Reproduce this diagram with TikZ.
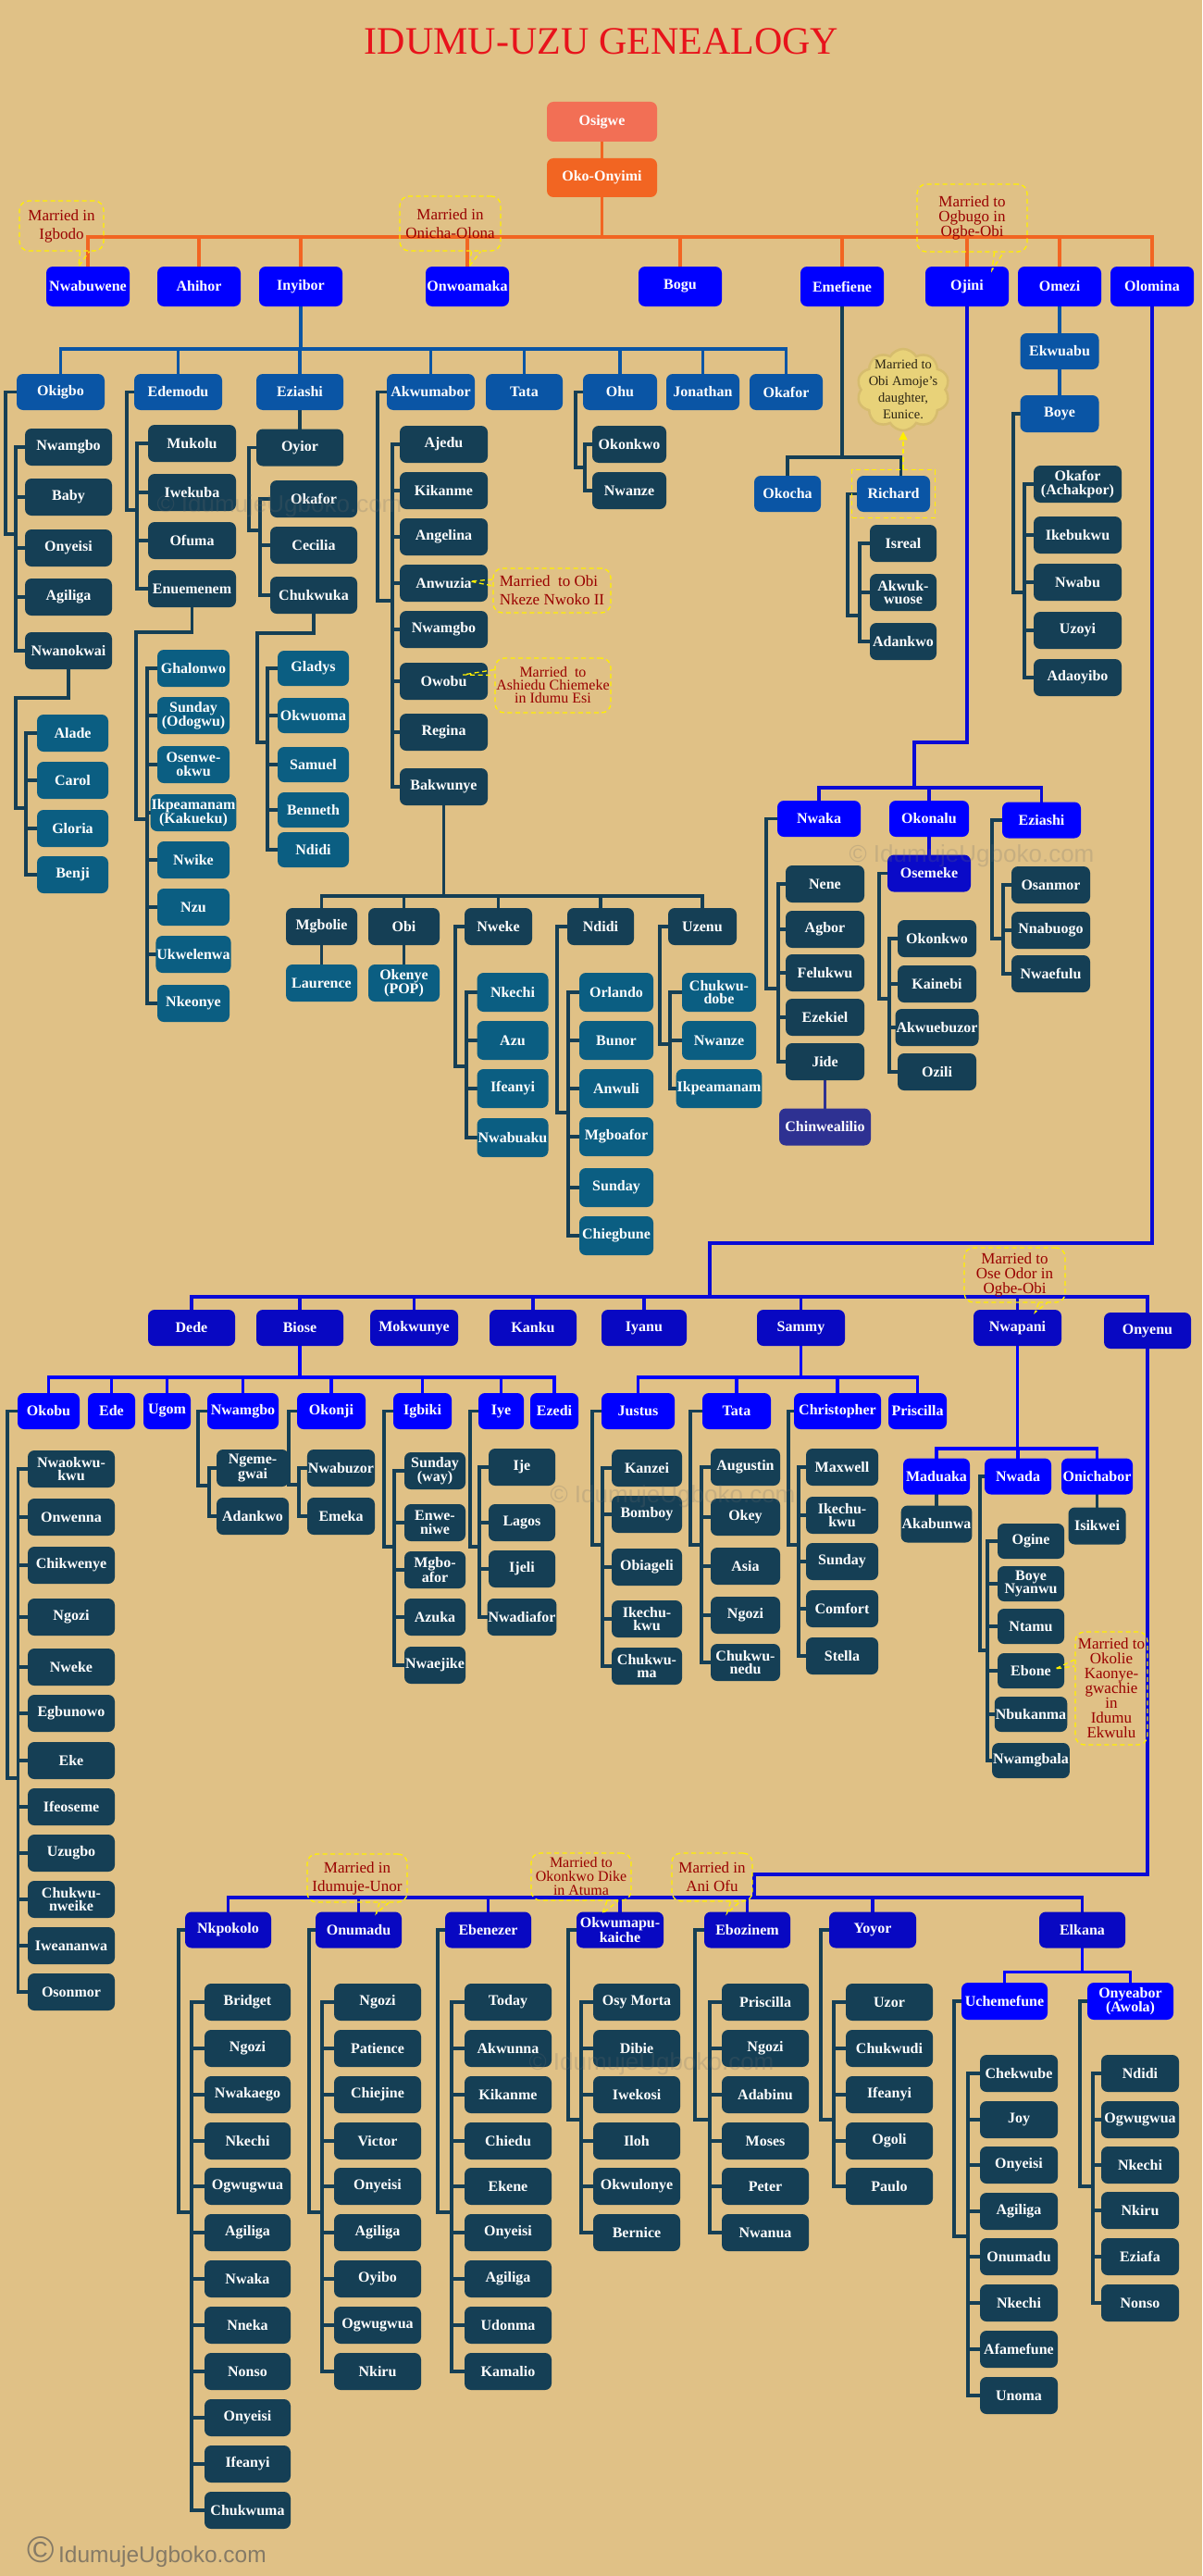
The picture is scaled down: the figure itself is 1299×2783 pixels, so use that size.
\documentclass[tikz,border=0pt]{standalone}
\usepackage{fontspec}
\setmainfont{Liberation Serif}
\newfontfamily\wmfont{Liberation Sans}
\usetikzlibrary{shapes.symbols,fit,arrows.meta}
\pgfdeclarelayer{back}
\pgfdeclarelayer{lines}
\pgfsetlayers{back,lines,main}
\definecolor{bgc}{HTML}{E0C186}
\definecolor{cTitle}{HTML}{E8131B}
\definecolor{cOsi}{HTML}{F26F55}
\definecolor{cOko}{HTML}{F26522}
\definecolor{cT}{HTML}{0000FF}
\definecolor{cM}{HTML}{0A55A5}
\definecolor{cD}{HTML}{153F55}
\definecolor{cL}{HTML}{0B5E82}
\definecolor{cN}{HTML}{0808C2}
\definecolor{cOse}{HTML}{0A0AC8}
\definecolor{cChi}{HTML}{2E3192}
\definecolor{cLine}{HTML}{0A0AD6}
\definecolor{cRed}{HTML}{990000}
\definecolor{cYel}{HTML}{FFF000}
\definecolor{cCloud}{HTML}{E8D279}
\definecolor{cCloudD}{HTML}{D6BC6E}
\definecolor{cCloudT}{HTML}{2B2414}
\definecolor{cWm}{HTML}{6E6E6E}
\definecolor{cFoot}{HTML}{857A66}
\tikzset{
  bx/.style={rounded corners=7pt, text=white, align=center, inner sep=1pt, minimum height=40, font=\bfseries\fontsize{16}{14.5}\selectfont},
  bT/.style={bx, fill=cT, minimum height=43, minimum width=90},
  bM/.style={bx, fill=cM, minimum height=39},
  bD/.style={bx, fill=cD},
  bL/.style={bx, fill=cL},
  bN/.style={bx, fill=cN, minimum height=39},
  bB/.style={bx, fill=cT, minimum height=39},
  conn/.style={line width=3.5pt, line cap=rect, line join=miter},
  callout/.style={draw=cYel, line width=1.3pt, dash pattern=on 5pt off 3.5pt, rounded corners=10pt, text=cRed, align=center, inner sep=1pt, font=\fontsize{17}{20}\selectfont},
  ptr/.style={draw=cYel, line width=1.3pt, dash pattern=on 5pt off 3.5pt},
  wm/.style={font=\wmfont\fontsize{26}{26}\selectfont, text=cWm, opacity=0.22},
}
% column of children: prefix, center x, width, style, list y/label
\newcommand\kcol[5]{\foreach \yy/\lab [count=\i] in {#5}{\node[#4, minimum width=#3] (#1\i) at (#2,\yy) {\lab};}}
% bus: prefix, n, inner x, colour
\newcommand\kbus[4]{%
  \coordinate (#1bx) at (#3,0);
  \draw[conn,#4] (#11.west -| #1bx) -- (#1#2.west -| #1bx);
  \foreach \i in {1,...,#2}{\draw[conn,#4] (#1\i.west) -- (#1\i.west -| #1bx);}}
% parent west elbow: parent, prefix, n, xo, ymid, xi, colour
\newcommand\kconn[7]{%
  \draw[conn,#7] (#1.west) -| (#4,#5) -- (#6,#5);
  \kbus{#2}{#3}{#6}{#7}}
% parent south elbow: parent, prefix, n, y1, xo, ymid, xi, colour
\newcommand\kconnb[8]{%
  \draw[conn,#8] (#1.south) |- (#5,#4) -- (#5,#6) -- (#7,#6);
  \kbus{#2}{#3}{#7}{#8}}

\begin{document}
\begin{tikzpicture}[x=1pt,y=-1pt]
\begin{pgfonlayer}{back}
\fill[bgc] (0,0) rectangle (1299,2783);
\end{pgfonlayer}
\useasboundingbox (0,0) rectangle (1299,2783);

\node[font=\fontsize{42}{42}\selectfont, text=cTitle] (title) at (650,45) {IDUMU-UZU GENEALOGY};

\node[bx,fill=cOsi,minimum width=119,minimum height=43] (osigwe) at (650.5,131.5) {Osigwe};
\node[bx,fill=cOko,minimum width=119,minimum height=42] (oko) at (650.5,192) {Oko-Onyimi};

\foreach \n/\x/\lab in {nwabuwene/95/Nwabuwene, ahihor/215/Ahihor, inyibor/325/Inyibor, onwoamaka/505/Onwoamaka, bogu/735/Bogu, emefiene/910/Emefiene, ojini/1045/Ojini, omezi/1145/Omezi, olomina/1245/Olomina}
  \node[bT] (\n) at (\x,309.5) {\lab};

% Inyibor's children
\foreach \n/\x/\w/\lab in {okigbo/65.5/95/Okigbo, edemodu/192.5/95/Edemodu, eziashiA/324/94/Eziashi, akwumabor/465.5/95/Akwumabor, tataA/566.5/83/Tata, ohu/670/80/Ohu, jonathan/759.5/79/Jonathan, okaforA/849.5/79/Okafor}
  \node[bM,minimum width=\w] (\n) at (\x,423.5) {\lab};

\kcol{oki}{74}{94}{bD}{483/Nwamgbo,537/Baby,592/Onyeisi,645/Agiliga,703/Nwanokwai}
\kcol{nwo}{78.5}{77}{bL}{792/Alade,843/Carol,895/Gloria,945/Benji}
\kcol{edm}{207.5}{95}{bD}{479/Mukolu,532/Iwekuba,584/Ofuma,636/Enuemenem}
\kcol{enu}{209}{78}{bL}{722/Ghalonwo,773/{Sunday\\(Odogwu)},826/{Osenwe-\\okwu},878/{Ikpeamanam\\(Kakueku)},929/Nwike,980/Nzu,1031/Ukwelenwa,1084/Nkeonye}
\node[bD,minimum width=94] (oyior) at (324,483.5) {Oyior};
\kcol{oyi}{339}{94}{bD}{539/Okafor,589/Cecilia,643/Chukwuka}
\kcol{chu}{338.5}{77}{bL,minimum height=38}{722/Gladys,773/Okwuoma,826/Samuel,875/Benneth,918/Ndidi}
\kcol{akw}{479.5}{95}{bD}{480/Ajedu,530/Kikanme,580/Angelina,630/Anwuzia,680/Nwamgbo,736/Owobu,791/Regina,850/Bakwunye}

\foreach \n/\x/\w/\lab in {mgbolie/347.5/77/Mgbolie, obi/436.5/77/Obi, nweke/538.5/73/Nweke, ndidiA/649/72/Ndidi, uzenu/759/74/Uzenu}
  \node[bD,minimum width=\w] (\n) at (\x,1001) {\lab};
\node[bL,minimum width=77] (laurence) at (347.5,1062) {Laurence};
\node[bL,minimum width=77] (okenye) at (436.5,1062) {Okenye\\(POP)};
\kcol{nwk}{554}{77}{bL,minimum height=42}{1072/Nkechi,1124/Azu,1176/Ifeanyi,1229/Nwabuaku}
\kcol{ndi}{666}{80}{bL,minimum height=42}{1072/Orlando,1124/Bunor,1176/Anwuli,1228/Mgboafor,1283/Sunday,1335/Chiegbune}
\kcol{uze}{777}{80}{bL,minimum height=42}{1072/{Chukwu-\\dobe},1124/Nwanze,1176/Ikpeamanam}
\kcol{ohu}{680}{80}{bD}{480/Okonkwo,530/Nwanze}

% Emefiene
\node[bM,minimum width=72] (okocha) at (851,533.5) {Okocha};
\node[bM,minimum width=79] (richard) at (965.5,533.5) {Richard};
\kcol{ric}{976}{72}{bD}{587/Isreal,640/{Akwuk-\\wuose},693/Adankwo}

% Omezi
\node[bM,minimum width=85] (ekwuabu) at (1145,379.5) {Ekwuabu};
\node[bM,minimum width=85,minimum height=40] (boye) at (1145,447) {Boye};
\kcol{boy}{1164.5}{95}{bD}{523/{Okafor\\(Achakpor)},578/Ikebukwu,629/Nwabu,681/Uzoyi,732/Adaoyibo}

% Ojini
\node[bB,minimum width=90] (nwaka) at (885,884.5) {Nwaka};
\node[bB,minimum width=86] (okonalu) at (1004,884.5) {Okonalu};
\node[bB,minimum width=85] (eziashiB) at (1125.5,886) {Eziashi};
\kcol{nwa}{891.5}{85}{bD}{955/Nene,1004/Agbor,1051/Felukwu,1099/Ezekiel,1147/Jide}
\node[bx,fill=cChi,minimum width=99] (chinwe) at (891.5,1217.5) {Chinwealilio};
\node[bx,fill=cOse,minimum width=90] (osemeke) at (1004,943.5) {Osemeke};
\kcol{ose}{1012.5}{85}{bD}{1014/Okonkwo,1063/Kainebi,1110/Akwuebuzor,1158/Ozili}
\kcol{ezi}{1135.5}{85}{bD}{956/Osanmor,1005/Nnabuogo,1052/Nwaefulu}

% Olomina's children
\foreach \n/\x/\w/\lab in {dede/207/94/Dede, biose/324/94/Biose, mokwunye/447.5/95/Mokwunye, kanku/576/94/Kanku, iyanu/696/92/Iyanu, sammy/865.5/95/Sammy, nwapani/1099.5/95/Nwapani}
  \node[bN,minimum width=\w] (\n) at (\x,1434.5) {\lab};
\node[bN,minimum width=94] (onyenu) at (1240,1437.5) {Onyenu};

\foreach \n/\x/\w/\lab in {okobu/52.5/67/Okobu, edeB/120.5/51/Ede, ugom/180.5/51/Ugom, nwamgboB/262.5/77/Nwamgbo, okonji/358/74/Okonji, igbiki/456.5/63/Igbiki, iye/541.5/49/Iye, ezedi/599/52/Ezedi}
  \node[bB,minimum width=\w] (\n) at (\x,1524.5) {\lab};
\kcol{okb}{77}{94}{bD}{1587/{Nwaokwu-\\kwu},1639/Onwenna,1691/Chikwenye,1747/Ngozi,1801/Nweke,1851/Egbunowo,1902/Eke,1952/Ifeoseme,2002/Uzugbo,2052/{Chukwu-\\nweike},2102/Iweananwa,2152/Osonmor}
\kcol{nwb}{273}{78}{bD}{1586/{Ngeme-\\gwai},1638/Adankwo}
\kcol{okj}{368.5}{73}{bD}{1586/Nwabuzor,1638/Emeka}
\kcol{igb}{470}{66}{bD}{1589/{Sunday\\(way)},1645/{Enwe-\\niwe},1696/{Mgbo-\\afor},1747/Azuka,1799/Nwaejike}
\kcol{iye}{564}{72}{bD}{1585/Ije,1645/Lagos,1695/Ijeli,1747/Nwadiafor}

\foreach \n/\x/\w/\lab in {justus/689.5/79/Justus, tataB/796/74/Tata, christopher/905/94/Christopher, priscilla/991.5/63/Priscilla}
  \node[bB,minimum width=\w] (\n) at (\x,1524.5) {\lab};
\kcol{jus}{699}{76}{bD}{1586/Kanzei,1636/Bomboy,1693/Obiageli,1749/{Ikechu-\\kwu},1800/{Chukwu-\\ma}}
\kcol{tat}{805.5}{75}{bD}{1585/Augustin,1639/Okey,1692/Asia,1745/Ngozi,1796/{Chukwu-\\nedu}}
\kcol{chr}{910}{78}{bD}{1585/Maxwell,1637/{Ikechu-\\kwu},1687/Sunday,1738/Comfort,1789/Stella}

\node[bB,minimum width=72] (maduaka) at (1012,1595) {Maduaka};
\node[bB,minimum width=72] (nwada) at (1100,1595) {Nwada};
\node[bB,minimum width=77] (onichabor) at (1185.5,1595) {Onichabor};
\node[bD,minimum width=75] (akabunwa) at (1012,1646.5) {Akabunwa};
\node[bD,minimum width=62] (isikwei) at (1185.5,1648.5) {Isikwei};
\kcol{nwd}{1114}{72}{bD,minimum height=38}{1665/Ogine,1711/{Boye\\Nyanwu},1757/Ntamu,1805/Ebone,1852/Nbukanma,1902/Nwamgbala}

% Onyenu's children
\foreach \n/\x/\w/\lab in {nkpokolo/246.5/93/Nkpokolo, onumadu/387.5/93/Onumadu, ebenezer/527.5/93/Ebenezer, okwumapu/670/94/{Okwumapu-\\kaiche}, ebozinem/807.5/93/Ebozinem, yoyor/943/94/Yoyor, elkana/1169.5/93/Elkana}
  \node[bN,minimum width=\w] (\n) at (\x,2085) {\lab};
\kcol{nkp}{267.5}{93}{bD}{2163/Bridget,2213/Ngozi,2263/Nwakaego,2313/Nkechi,2362/Ogwugwua,2412/Agiliga,2462/Nwaka,2512/Nneka,2562/Nonso,2612/Onyeisi,2662/Ifeanyi,2712/Chukwuma}
\kcol{onu}{408}{94}{bD}{2163/Ngozi,2213/Patience,2263/Chiejine,2313/Victor,2362/Onyeisi,2412/Agiliga,2462/Oyibo,2512/Ogwugwua,2562/Nkiru}
\kcol{ebe}{549}{94}{bD}{2163/Today,2213/Akwunna,2263/Kikanme,2313/Chiedu,2362/Ekene,2412/Onyeisi,2462/Agiliga,2512/Udonma,2562/Kamalio}
\kcol{okw}{688}{94}{bD}{2163/Osy Morta,2213/Dibie,2263/Iwekosi,2313/Iloh,2362/Okwulonye,2412/Bernice}
\kcol{ebo}{827}{94}{bD}{2163/Priscilla,2213/Ngozi,2263/Adabinu,2313/Moses,2362/Peter,2412/Nwanua}
\kcol{yoy}{961}{94}{bD}{2163/Uzor,2213/Chukwudi,2263/Ifeanyi,2313/Ogoli,2362/Paulo}
\node[bB,minimum width=93,minimum height=40] (uchemefune) at (1085.5,2162) {Uchemefune};
\node[bB,minimum width=93,minimum height=40] (onyeabor) at (1221.5,2162) {Onyeabor\\(Awola)};
\kcol{uch}{1101}{84}{bD}{2240/Chekwube,2290/Joy,2339/Onyeisi,2389/Agiliga,2438/Onumadu,2488/Nkechi,2538/Afamefune,2588/Unoma}
\kcol{ony}{1232}{84}{bD}{2240/Ndidi,2290/Ogwugwua,2339/Nkechi,2388/Nkiru,2438/Eziafa,2488/Nonso}

% ---------------- connectors ----------------
\begin{pgfonlayer}{lines}
\draw[conn,cOko] (osigwe) -- (oko);
\foreach \c in {nwabuwene,ahihor,inyibor,onwoamaka,bogu,emefiene,ojini,omezi,olomina}
  \draw[conn,cOko] (oko.south) -- ++(0,43) -| (\c.north);
\foreach \c in {okigbo,edemodu,eziashiA,akwumabor,tataA,ohu,jonathan,okaforA}
  \draw[conn,cM] (inyibor.south) -- ++(0,46) -| (\c.north);
\kconn{okigbo}{oki}{5}{6}{577}{17}{cD}
\kconnb{oki5}{nwo}{4}{754}{17}{873}{28}{cD}
\kconn{edemodu}{edm}{4}{137}{551}{148}{cD}
\kconnb{edm4}{enu}{8}{683}{147}{885}{159}{cD}
\draw[conn,cD] (eziashiA) -- (oyior);
\kconn{oyior}{oyi}{3}{269}{573}{281}{cD}
\kconnb{oyi3}{chu}{5}{684}{278}{802}{289}{cD}
\kconn{akwumabor}{akw}{8}{408}{649}{424}{cD}
\foreach \c in {mgbolie,obi,nweke,ndidiA,uzenu}
  \draw[conn,cD] (akw8.south) -- ++(0,98) -| (\c.north);
\draw[conn,cD] (mgbolie) -- (laurence);
\draw[conn,cD] (obi) -- (okenye);
\kconn{nweke}{nwk}{4}{492}{1152}{504}{cD}
\kconn{ndidiA}{ndi}{6}{602}{1202}{614}{cD}
\kconn{uzenu}{uze}{3}{713}{1128}{724}{cD}
\kconn{ohu}{ohu}{2}{622}{505}{632}{cD}
\draw[conn,cD] (emefiene.south) -- ++(0,163) -| (okocha.north);
\draw[conn,cD] (emefiene.south) -- ++(0,163) -| ([xshift=8pt]richard.north);
\kconn{richard}{ric}{3}{916}{665}{929}{cD}
\draw[conn,cM] (omezi) -- (ekwuabu);
\draw[conn,cM] (ekwuabu) -- (boye);
\kconn{boye}{boy}{5}{1095}{640}{1107}{cD}
\draw[conn,cLine] (ojini.south) |- (988,802) -- (988,851) coordinate (ojbar);
\foreach \c in {nwaka,okonalu,eziashiB}
  \draw[conn,cLine] (ojbar) -| (\c.north);
\kconn{nwaka}{nwa}{5}{828}{1068}{841}{cD}
\draw[conn,cChi] (nwa5) -- (chinwe);
\draw[conn,cLine] (okonalu) -- (osemeke);
\kconn{osemeke}{ose}{4}{950}{1079}{961}{cD}
\kconn{eziashiB}{ezi}{3}{1072}{1014}{1084}{cD}
\draw[conn,cLine] (olomina.south) |- (767,1343) -- (767,1401) coordinate (olbar);
\foreach \c in {dede,biose,mokwunye,kanku,iyanu,sammy,nwapani,onyenu}
  \draw[conn,cLine] (olbar) -| (\c.north);
\foreach \c in {okobu,edeB,ugom,nwamgboB,okonji,igbiki,iye,ezedi}
  \draw[conn,cT] (biose.south) -- ++(0,34) -| (\c.north);
\kconn{okobu}{okb}{12}{8}{1921}{19.5}{cD}
\kconn{nwamgboB}{nwb}{2}{214}{1605}{226}{cD}
\kconn{okonji}{okj}{2}{312}{1604}{323}{cD}
\kconn{igbiki}{igb}{5}{415}{1671}{426}{cD}
\kconn{iye}{iye}{4}{508}{1671}{518}{cD}
\foreach \c in {justus,tataB,christopher,priscilla}
  \draw[conn,cT] (sammy.south) -- ++(0,34) -| (\c.north);
\kconn{justus}{jus}{5}{640}{1669}{651}{cD}
\kconn{tataB}{tat}{5}{746}{1669}{758}{cD}
\kconn{christopher}{chr}{5}{852}{1669}{863}{cD}
\foreach \c in {maduaka,nwada,onichabor}
  \draw[conn,cT] (nwapani.south) -- ++(0,111) -| (\c.north);
\draw[conn,cD] (maduaka) -- (akabunwa);
\draw[conn,cD] (onichabor) -- (isikwei);
\kconn{nwada}{nwd}{6}{1059}{1783}{1067}{cD}
\draw[conn,cLine] (onyenu.south) |- (815,2025) -- (815,2050) coordinate (onbar);
\foreach \c in {nkpokolo,onumadu,ebenezer,okwumapu,ebozinem,yoyor,elkana}
  \draw[conn,cLine] (onbar) -| (\c.north);
\kconn{nkpokolo}{nkp}{12}{193}{2390}{207}{cD}
\kconn{onumadu}{onu}{9}{334}{2390}{348}{cD}
\kconn{ebenezer}{ebe}{9}{473}{2390}{488}{cD}
\kconn{okwumapu}{okw}{6}{614}{2290}{628}{cD}
\kconn{ebozinem}{ebo}{6}{751}{2290}{767}{cD}
\kconn{yoyor}{yoy}{5}{887}{2290}{901}{cD}
\foreach \c in {uchemefune,onyeabor}
  \draw[conn,cT] (elkana.south) -- ++(0,26) -| (\c.north);
\kconn{uchemefune}{uch}{8}{1031}{2416}{1046}{cD}
\kconn{onyeabor}{ony}{6}{1167}{2362}{1181}{cD}
\end{pgfonlayer}

% ---------------- callouts ----------------
\node[callout,minimum width=91,minimum height=54] (cIgb) at (66.5,244) {Married in\\Igbodo};
\draw[ptr] ([xshift=20pt]cIgb.south) -- ([xshift=-10pt]nwabuwene.north) -- ([xshift=30pt]cIgb.south);
\node[callout,minimum width=109,minimum height=59] (cOni) at (486.5,241.5) {Married in\\Onicha-Olona};
\draw[ptr] ([xshift=23pt]cOni.south) -- ([xshift=2pt]onwoamaka.north) -- ([xshift=33pt]cOni.south);
\node[callout,minimum width=119,minimum height=73,font=\fontsize{17}{16}\selectfont] (cOgb) at (1050.5,235.5) {Married to\\Ogbugo in\\Ogbe-Obi};
\draw[ptr] ([xshift=24pt]cOgb.south) -- ([xshift=27pt,yshift=-4pt]ojini.north) -- ([xshift=34pt]cOgb.south);
\node[callout,minimum width=127,minimum height=48,align=left] (cAnw) at (596.5,638) {Married\ \ to Obi\\Nkeze Nwoko II};
\draw[ptr] ([yshift=12pt]cAnw.west) -- ([xshift=-19pt,yshift=2pt]akw4.east) -- ([yshift=5pt]cAnw.west);
\node[callout,minimum width=125,minimum height=59,font=\fontsize{16}{14}\selectfont] (cOwo) at (597.5,740.5) {Married\ \ to\\Ashiedu Chiemeke\\in Idumu Esi};
\draw[ptr] ([yshift=17pt]cOwo.west) -- ([xshift=-27pt,yshift=7pt]akw6.east) -- ([yshift=11pt]cOwo.west);
\node[callout,minimum width=109,minimum height=59,font=\fontsize{17}{16}\selectfont] (cOse) at (1096.5,1377.5) {Married to\\Ose Odor in\\Ogbe-Obi};
\draw[ptr] ([xshift=26pt]cOse.south) -- ([xshift=19pt,yshift=-3pt]nwapani.north) -- ([xshift=35pt]cOse.south);
\node[callout,minimum width=78,minimum height=122,font=\fontsize{17}{16}\selectfont] (cOkl) at (1201,1824) {Married to\\Okolie\\Kaonye-\\gwachie\\in\\Idumu\\Ekwulu};
\draw[ptr] ([yshift=31pt]cOkl.west) -- ([xshift=-10pt,yshift=2pt]nwd4.east) -- ([yshift=24pt]cOkl.west);
\node[callout,minimum width=108,minimum height=52] (cIdu) at (386,2029) {Married in\\Idumuje-Unor};
\draw[ptr] ([xshift=24pt]cIdu.south) -- ([xshift=19pt,yshift=-2pt]onumadu.north) -- ([xshift=34pt]cIdu.south);
\node[callout,minimum width=108,minimum height=51,font=\fontsize{16}{15}\selectfont] (cAtu) at (628,2027.5) {Married to\\Okonkwo Dike\\in Atuma};
\draw[ptr] ([xshift=28pt]cAtu.south) -- ([xshift=-19pt,yshift=-2pt]okwumapu.north) -- ([xshift=40pt]cAtu.south);
\node[callout,minimum width=87,minimum height=52] (cAni) at (769.5,2028) {Married in\\Ani Ofu};
\draw[ptr] ([xshift=20pt]cAni.south) -- ([xshift=-22pt,yshift=-2pt]ebozinem.north) -- ([xshift=30pt]cAni.south);

% Richard highlight and cloud
\node[ptr, fit=(richard), inner xsep=5pt, inner ysep=6pt] (richfit) {};
\node[cloud, cloud puffs=10, cloud puff arc=120, aspect=1.1, fill=cCloud, draw=cCloudD, line width=2.5pt, minimum width=100, minimum height=88] (cloud) at (976,421) {};
\node[text=cCloudT, align=center, font=\fontsize{14.5}{18}\selectfont] (cloudtxt) at (cloud.center) {Married to\\Obi Amoje's\\daughter,\\Eunice.};
\draw[ptr, -{Triangle[length=9pt,width=9pt]}] (cloud.south |- richfit.north) -- (cloud.south);

% watermarks and footer
\foreach \x/\y [count=\k] in {302/547, 1050/925, 727/1617, 704/2230}
  \node[wm] (wm\k) at (\x,\y) {© IdumujeUgboko.com};
\node[anchor=west, text=cFoot, font=\wmfont\fontsize{24.5}{25}\selectfont] (footer) at (26,2757) {{\fontsize{40}{40}\selectfont ©}\,IdumujeUgboko.com};
\end{tikzpicture}
\end{document}
